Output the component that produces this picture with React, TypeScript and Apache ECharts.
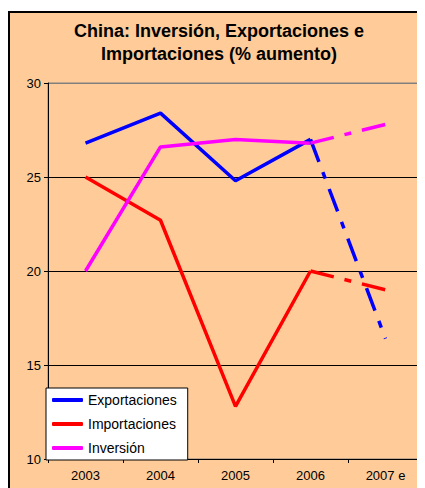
import React, { useEffect, useRef } from "react";
import * as echarts from "echarts";

const categories = ["2003", "2004", "2005", "2006", "2007 e"];
const exportaciones = [26.8, 28.4, 24.8, 27.0, 16.4];
const importaciones = [25.0, 22.7, 12.8, 20.0, 19.0];
const inversion = [20.0, 26.6, 27.0, 26.8, 27.8];
const yTicks = { min: 10, max: 30, interval: 5 };

const BLUE = "#0000FF";
const RED = "#FF0000";
const MAGENTA = "#FF00FF";
const DASH = [24, 11, 7, 11];

function solidPart(arr: number[]) {
  return arr.map((v, i) => (i <= 3 ? v : null));
}
function dashPart(arr: number[]) {
  return arr.map((v, i) => (i >= 3 ? v : null));
}

export default function App() {
  const ref = useRef<HTMLDivElement>(null);
  useEffect(() => {
    if (!ref.current) return;
    const chart = echarts.init(ref.current, undefined, { renderer: "svg" });
    const mk = (name: string, data: (number | null)[], color: string, dashed: boolean) => ({
      name,
      type: "line",
      data,
      symbol: "none",
      showSymbol: false,
      connectNulls: false,
      lineStyle: { color, width: 3.5, type: dashed ? DASH : "solid", cap: "butt" },
      itemStyle: { color },
      z: 3,
    });
    chart.setOption({
      animation: false,
      backgroundColor: "transparent",
      textStyle: { fontFamily: "Liberation Sans, Arial, sans-serif" },
      graphic: [
        {
          type: "rect",
          z: -10,
          silent: true,
          shape: { x: 1, y: 4, width: 440, height: 500 },
          style: { fill: "#FFCC99", stroke: "#000", lineWidth: 2 },
        },
      ],
      title: {
        text: "China: Inversión, Exportaciones e\nImportaciones (% aumento)",
        left: 211,
        top: 11,
        textAlign: "center",
        padding: 0,
        textStyle: {
          fontSize: 18,
          fontWeight: "bold",
          color: "#000",
          lineHeight: 23,
          fontFamily: "Liberation Sans, Arial, sans-serif",
        },
      },
      legend: {
        data: ["Exportaciones", "Importaciones", "Inversión"],
        orient: "vertical",
        left: 38,
        top: 380,
        icon: "roundRect",
        itemWidth: 31,
        itemHeight: 4,
        itemGap: 8,
        padding: [4, 11, 4, 6],
        backgroundColor: "#FFFFFF",
        borderColor: "#000",
        borderWidth: 1,
        borderRadius: 0,
        z: 10,
        textStyle: {
          fontSize: 14,
          lineHeight: 16,
          color: "#000",
          fontFamily: "Liberation Sans, Arial, sans-serif",
        },
      },
      grid: {
        left: 40,
        right: 2,
        top: 75,
        bottom: 29,
        show: true,
        borderColor: "#808080",
        borderWidth: 1,
        backgroundColor: "transparent",
        containLabel: false,
      },
      xAxis: {
        type: "category",
        data: categories,
        boundaryGap: true,
        axisLine: { show: true, lineStyle: { color: "#000", width: 1 } },
        axisTick: { show: true, interval: 0, length: 4, inside: false, lineStyle: { color: "#000" } },
        axisLabel: {
          interval: 0,
          margin: 10,
          fontSize: 13,
          color: "#000",
          fontFamily: "Liberation Sans, Arial, sans-serif",
        },
        splitLine: { show: false },
      },
      yAxis: {
        type: "value",
        min: yTicks.min,
        max: yTicks.max,
        interval: yTicks.interval,
        axisLine: { show: true, lineStyle: { color: "#000", width: 1 } },
        axisTick: { show: true, length: 4, inside: false, lineStyle: { color: "#000" } },
        axisLabel: {
          margin: 7,
          fontSize: 13,
          color: "#000",
          fontFamily: "Liberation Sans, Arial, sans-serif",
        },
        splitLine: {
          show: true,
          lineStyle: { color: ["#000", "#000", "#000", "#000", "#808080"], width: 1 },
        },
      },
      series: [
        mk("Exportaciones", solidPart(exportaciones), BLUE, false),
        mk("Importaciones", solidPart(importaciones), RED, false),
        mk("Inversión", solidPart(inversion), MAGENTA, false),
        mk("Exportaciones", dashPart(exportaciones), BLUE, true),
        mk("Importaciones", dashPart(importaciones), RED, true),
        mk("Inversión", dashPart(inversion), MAGENTA, true),
      ],
    });
    return () => chart.dispose();
  }, []);
  return <div ref={ref} style={{ width: 417, height: 480 }} />;
}
